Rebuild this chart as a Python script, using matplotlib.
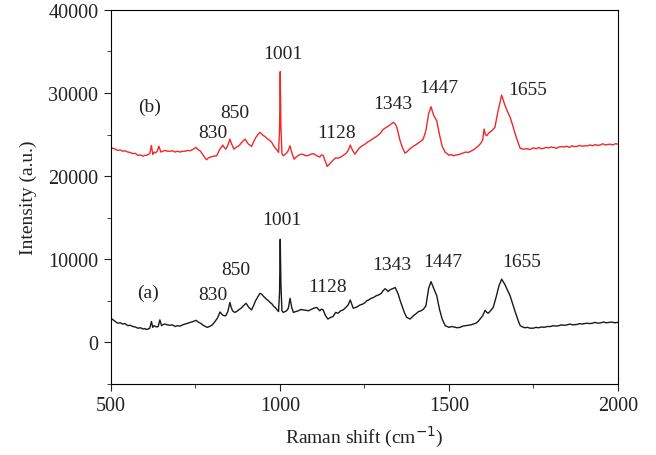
import matplotlib
matplotlib.use("Agg")
import matplotlib.pyplot as plt
from matplotlib.ticker import MultipleLocator

plt.rcParams['font.family'] = ['Liberation Serif', 'DejaVu Serif']

# spectrum (a), black
shift_a = [500, 505, 510, 515, 520, 528, 535, 542, 550, 557, 565, 572, 580, 588, 595, 600, 605, 610, 615,
           620, 624, 628, 632, 636, 640, 645, 650, 655, 660, 667, 675, 682, 690, 697, 705, 712, 720,
           728, 735, 743, 752, 758, 765, 770, 775, 780, 785, 792, 800, 808, 815, 823, 830, 835, 840,
           846, 852, 856, 860, 866, 872, 878, 885, 892, 900, 908, 916, 922, 928, 935, 941, 946, 950,
           955, 960, 966, 971, 977, 982, 986, 990, 996, 999, 1001, 1003, 1006, 1010, 1015, 1020, 1025,
           1030, 1035, 1040, 1047, 1055, 1062, 1070, 1077, 1085, 1092, 1100, 1109, 1118, 1123, 1128,
           1135, 1142, 1150, 1157, 1165, 1172, 1180, 1187, 1195, 1202, 1208, 1217, 1224, 1230, 1237,
           1245, 1251, 1257, 1263, 1270, 1277, 1285, 1292, 1300, 1305, 1311, 1316, 1320, 1325, 1330,
           1336, 1341, 1350, 1356, 1362, 1368, 1375, 1385, 1395, 1403, 1410, 1418, 1425, 1432, 1440,
           1447, 1455, 1464, 1472, 1480, 1489, 1495, 1500, 1507, 1515, 1524, 1533, 1541, 1550, 1557,
           1565, 1572, 1580, 1586, 1592, 1600, 1607, 1612, 1616, 1621, 1625, 1631, 1640, 1648, 1656,
           1665, 1673, 1681, 1695, 1705, 1711, 1718, 1725, 1732, 1740, 1750, 1757, 1765, 1775, 1782,
           1790, 1800, 1808, 1816, 1825, 1832, 1840, 1850, 1858, 1866, 1879, 1886, 1893, 1900, 1908,
           1916, 1925, 1932, 1940, 1950, 1957, 1965, 1975, 1982, 1990, 2000]
inten_a = [2900, 2750, 2600, 2450, 2300, 2350, 2200, 2250, 2000, 2050, 1900, 1850, 1700, 1750, 1600, 1650, 1550, 1600, 1700,
           2500, 1800, 2000, 1900, 1850, 1900, 2700, 2000, 2150, 2200, 2100, 2050, 2100, 1900, 2000, 1950, 2100, 2200,
           2300, 2400, 2500, 2650, 2450, 2300, 2150, 2000, 1900, 1800, 1900, 2100, 2500, 2900, 3650, 3300, 3200, 3200,
           3700, 4800, 4200, 3800, 3600, 3700, 3900, 4100, 4400, 4700, 4200, 3900, 4400, 5000, 5500, 5900, 5800, 5600,
           5400, 5200, 5000, 4800, 4600, 4300, 4200, 4000, 3700, 6000, 12400, 7000, 3800, 3600, 3700, 3800, 4100,
           5300, 4200, 3600, 3700, 3800, 3950, 3900, 3850, 3800, 3950, 4100, 4200, 3800, 4000, 3900,
           3200, 2800, 3000, 3100, 3600, 3500, 3800, 3900, 4200, 4500, 5100, 4100, 4200, 4300, 4500,
           4600, 4750, 5000, 5100, 5300, 5400, 5600, 5700, 5900, 6200, 6450, 6300, 6100, 6300, 6400,
           6500, 6600, 5800, 5000, 4300, 3600, 3000, 2800, 3200, 3450, 3700, 3800, 4000, 4400, 6500,
           7300, 6500, 5600, 4000, 2800, 2000, 1900, 1800, 1900, 1850, 1750, 1800, 1950, 2000, 2050,
           2100, 2200, 2300, 2500, 2800, 3200, 3850, 3600, 3500, 3700, 3900, 4200, 5500, 6800, 7600,
           7000, 6300, 5600, 3800, 2600, 2000, 1850, 1750, 1800, 1700, 1700, 1800, 1750, 1850, 1800,
           1900, 1900, 2000, 1950, 2000, 2100, 2050, 2100, 2200, 2100, 2150, 2250, 2200, 2250, 2300,
           2250, 2300, 2400, 2300, 2350, 2450, 2350, 2400, 2450, 2350, 2400]

# spectrum (b), red
shift_b = [500, 505, 510, 515, 520, 528, 535, 542, 550, 557, 565, 572, 580, 588, 595, 600, 605, 610, 615,
           620, 624, 628, 632, 637, 642, 648, 654, 660, 667, 675, 682, 690, 697, 705, 712, 720, 727,
           734, 742, 752, 758, 765, 770, 775, 783, 789, 795, 804, 813, 822, 831, 836, 840, 846, 852,
           858, 864, 872, 880, 888, 897, 906, 916, 922, 928, 935, 941, 946, 950, 955, 960, 966, 971,
           977, 982, 986, 990, 996, 999, 1001, 1003, 1006, 1010, 1015, 1020, 1025, 1030, 1036, 1042,
           1048, 1055, 1062, 1070, 1077, 1085, 1092, 1100, 1109, 1118, 1123, 1128, 1135, 1140, 1150,
           1157, 1165, 1172, 1180, 1187, 1195, 1202, 1208, 1215, 1222, 1228, 1235, 1242, 1250, 1255,
           1261, 1268, 1275, 1283, 1290, 1298, 1305, 1312, 1320, 1327, 1335, 1341, 1346, 1351, 1356,
           1363, 1370, 1375, 1380, 1388, 1395, 1403, 1410, 1417, 1424, 1432, 1440, 1447, 1455, 1464,
           1472, 1480, 1489, 1495, 1500, 1507, 1513, 1521, 1530, 1540, 1550, 1557, 1565, 1574, 1582,
           1589, 1595, 1600, 1604, 1608, 1612, 1618, 1625, 1630, 1636, 1645, 1656, 1665, 1673, 1681,
           1688, 1695, 1705, 1711, 1720, 1730, 1740, 1750, 1758, 1766, 1773, 1780, 1788, 1795, 1803,
           1810, 1818, 1825, 1832, 1840, 1848, 1856, 1864, 1872, 1879, 1887, 1895, 1903, 1910, 1918,
           1925, 1932, 1940, 1948, 1955, 1962, 1970, 1977, 1985, 1992, 2000]
inten_b = [23500, 23350, 23300, 23200, 23100, 23150, 23000, 23050, 22900, 22850, 22700, 22750, 22500, 22550, 22400, 22500, 22500, 22600, 22700,
           23700, 22600, 22900, 22800, 23000, 23600, 22900, 23000, 23100, 23000, 23000, 23050, 22900, 23000, 22900, 23000, 23000, 23100,
           23050, 23200, 23460, 23200, 23000, 22700, 22400, 21970, 22200, 22300, 22400, 22450, 23200, 23740, 23400, 23260, 23700, 24460,
           23800, 23260, 23500, 23700, 24100, 24460, 23900, 23580, 24100, 24600, 25000, 25270, 25100, 24900, 24800, 24600, 24400, 24260,
           24000, 23600, 23400, 23200, 22860, 25500, 32570, 26000, 22700, 22450, 22600, 22800, 23100, 23650, 22700, 22050,
           22300, 22500, 22650, 22600, 22450, 22500, 22650, 22700, 22450, 22300, 22550, 22500, 21700, 21170, 21600,
           21900, 22200, 22150, 22300, 22500, 22700, 23100, 23740, 23100, 22650, 23000, 23400, 23600, 23800, 23950,
           24140, 24300, 24500, 24700, 24900, 25200, 25600, 25800, 26000, 26200, 26470, 26300, 25870, 25000, 24200,
           23400, 22770, 22900, 23100, 23400, 23600, 23800, 24000, 24200, 24460, 25500, 27500, 28350, 27300, 26670,
           25000, 23600, 22860, 22700, 22500, 22600, 22450, 22550, 22600, 22750, 22900, 22850, 23000, 23200, 23460,
           23700, 24000, 24400, 25670, 25000, 24860, 25200, 25400, 25600, 25870, 27800, 29760, 28600, 27800, 27080,
           26200, 25200, 24000, 23340, 23250, 23300, 23200, 23400, 23300, 23450, 23300, 23340, 23450, 23400, 23500,
           23450, 23350, 23500, 23550, 23500, 23600, 23450, 23650, 23550, 23580, 23700, 23600, 23650, 23650, 23750,
           23650, 23800, 23700, 23750, 23900, 23750, 23800, 23850, 23750, 23900, 23860]

# peak labels: (text, x, y)
labels_a = [("(a)", 610, 6000), ("830", 802, 5800), ("850", 870, 8800), ("1001", 1006, 14800),
            ("1128", 1142, 6750), ("1343", 1332, 9400), ("1447", 1483, 9750), ("1655", 1714, 9750)]
labels_b = [("(b)", 615, 28450), ("830", 802, 25300), ("850", 867, 27600), ("1001", 1009, 34700),
            ("1128", 1169, 25200), ("1343", 1335, 28700), ("1447", 1471, 30700), ("1655", 1734, 30400)]

fig = plt.figure(figsize=(6.56, 4.56), dpi=100)
ax = fig.add_axes([0.169, 0.156, 0.773, 0.82])

ax.plot(shift_a, inten_a, color="#1a1a1a", lw=1.0)
ax.plot(shift_b, inten_b, color="#f02828", lw=1.0)

for txt, x, y in labels_a + labels_b:
    ax.text(x, y, txt, ha="center", va="center", fontsize=14, color="#222222")

ax.set_xlim(500, 2000)
ax.set_ylim(-5000, 40000)
ax.xaxis.set_major_locator(MultipleLocator(500))
ax.xaxis.set_minor_locator(MultipleLocator(250))
ax.yaxis.set_major_locator(MultipleLocator(10000))
ax.yaxis.set_minor_locator(MultipleLocator(5000))
ax.tick_params(which="both", direction="out", top=False, right=False, labelsize=14.5, colors="#222222")
ax.tick_params(which="major", length=5, pad=4)
ax.tick_params(which="minor", length=3)
ax.set_xlabel("Raman shift (cm$^{-1}$)", fontsize=14, color="#222222", labelpad=6)
ax.set_ylabel("Intensity (a.u.)", fontsize=14, color="#222222", labelpad=8)

fig.savefig("out.png", dpi=100)
